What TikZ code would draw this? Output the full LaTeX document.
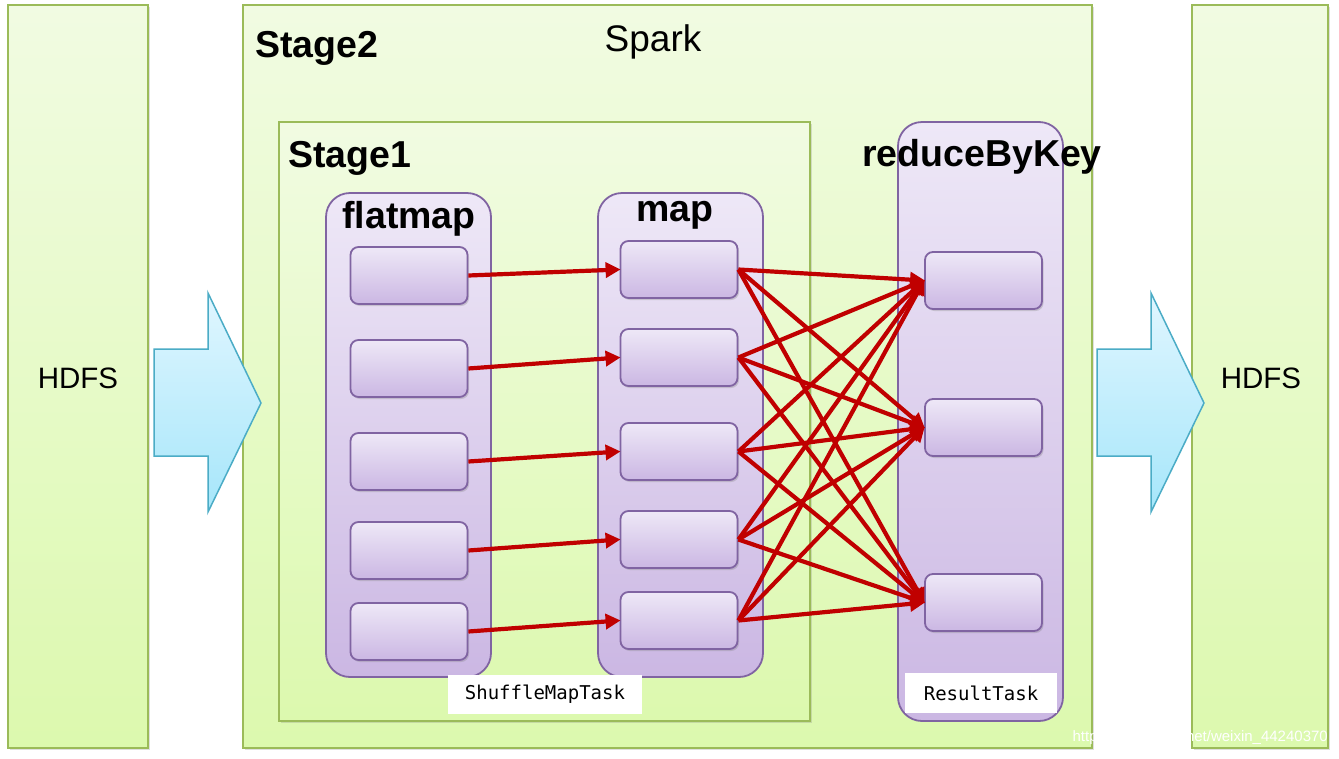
\documentclass[tikz,border=0pt]{standalone}
\usepackage{fontspec}
\setmainfont{Liberation Sans}
\newfontfamily\monofont{DejaVu Sans Mono}
\usetikzlibrary{arrows.meta,shadows}
\definecolor{pgreen}{HTML}{9BBB59}
\definecolor{gtop}{HTML}{F1FBE2}
\definecolor{gbot}{HTML}{DCF9AE}
\definecolor{ppurple}{HTML}{8064A2}
\definecolor{ptop}{HTML}{EEE8F7}
\definecolor{pbot}{HTML}{CBB7E3}
\definecolor{arred}{HTML}{C00000}
\definecolor{btop}{HTML}{E0F6FF}
\definecolor{bbot}{HTML}{A6E6FA}
\definecolor{bline}{HTML}{4BACC6}
\tikzset{
  panel/.style={draw=pgreen, line width=2pt, top color=gtop, bottom color=gbot,
    drop shadow={shadow xshift=1.5pt, shadow yshift=-1.5pt, opacity=0.25}},
  container/.style={draw=ppurple, line width=1.8pt, rounded corners=24pt, top color=ptop, bottom color=pbot},
  task/.style={draw=ppurple, line width=1.8pt, rounded corners=8pt, top color=ptop, bottom color=pbot,
    minimum width=117pt, minimum height=57pt, inner sep=0pt,
    drop shadow={shadow xshift=1.5pt, shadow yshift=-2pt, opacity=0.3}},
  flow/.style={draw=arred, line width=4.2pt, -{Triangle[length=15pt,width=15pt]}, shorten >=-1pt},
  bigarrow/.style={draw=bline, line width=1.5pt, top color=btop, bottom color=bbot, line join=miter},
  boldlabel/.style={font=\fontsize{37.5}{40}\selectfont\bfseries, inner sep=0pt},
  plainlabel/.style={inner sep=0pt},
  tasklabel/.style={fill=white, font=\monofont\fontsize{19}{21}\selectfont, inner sep=0pt}
}
\begin{document}
\begin{tikzpicture}[x=1pt,y=-1pt]
\useasboundingbox (0,0) rectangle (1339,758);
\fill[white] (0,0) rectangle (1339,758);
% panels
\path[panel] (8,5) rectangle (148,748);
\path[panel] (243,5) rectangle (1092,748);
\path[panel] (1192,5) rectangle (1328,748);
\path[panel] (279,122) rectangle (810,721);
% big arrows
\path[bigarrow] (154,349) -- (208,349) -- (208,293) -- (261,403) -- (208,512) -- (208,456) -- (154,456) -- cycle;
\path[bigarrow] (1097,349) -- (1151,349) -- (1151,293) -- (1204,403) -- (1151,512) -- (1151,456) -- (1097,456) -- cycle;
% texts in panels
\node[plainlabel, font=\fontsize{29.5}{32}\selectfont] (hdfsL) at (78,378) {HDFS};
\node[plainlabel, font=\fontsize{29.5}{32}\selectfont] (hdfsR) at (1261,378) {HDFS};
\node[plainlabel, font=\fontsize{37}{40}\selectfont] (spark) at (653,42) {Spark};
\node[boldlabel, anchor=west] (stage2) at (255,48) {Stage2};
\node[boldlabel, anchor=west] (stage1) at (288,158) {Stage1};
% containers
\path[container] (326,193) rectangle (491,677);
\path[container] (598,193) rectangle (763,677);
\path[container] (898,122) rectangle (1063,721);
\node[boldlabel] (lflat) at (409,219) {flatmap};
\node[boldlabel] (lmap) at (675,215) {map};
\node[boldlabel] (lred) at (982,157) {reduceByKey};
% tasks
\node[task] (f1) at (409,275.5) {};
\node[task] (f2) at (409,368.5) {};
\node[task] (f3) at (409,461.5) {};
\node[task] (f4) at (409,550.5) {};
\node[task] (f5) at (409,631.5) {};
\node[task] (m1) at (679,269.5) {};
\node[task] (m2) at (679,357.5) {};
\node[task] (m3) at (679,451.5) {};
\node[task] (m4) at (679,539.5) {};
\node[task] (m5) at (679,620.5) {};
\node[task] (r1) at (983.5,280.5) {};
\node[task] (r2) at (983.5,427.5) {};
\node[task] (r3) at (983.5,602.5) {};
% task labels
\node[tasklabel, minimum width=194pt, minimum height=39pt] (smt) at (545,694.5) {ShuffleMapTask};
\node[tasklabel, minimum width=152pt, minimum height=40pt] (rt) at (981,693) {ResultTask};
% flows
\foreach \i in {1,...,5} {
  \draw[flow] (f\i.east) -- (m\i.west);
}
\foreach \i in {1,...,5} {
  \foreach \j in {1,2,3} {
    \draw[flow] (m\i.east) -- (r\j.west);
  }
}
% watermark
\node[text=white, font=\fontsize{15}{16}\selectfont, anchor=east, inner sep=0pt] (wm) at (1328,738) {https://blog.csdn.net/weixin\_44240370};
\end{tikzpicture}
\end{document}
